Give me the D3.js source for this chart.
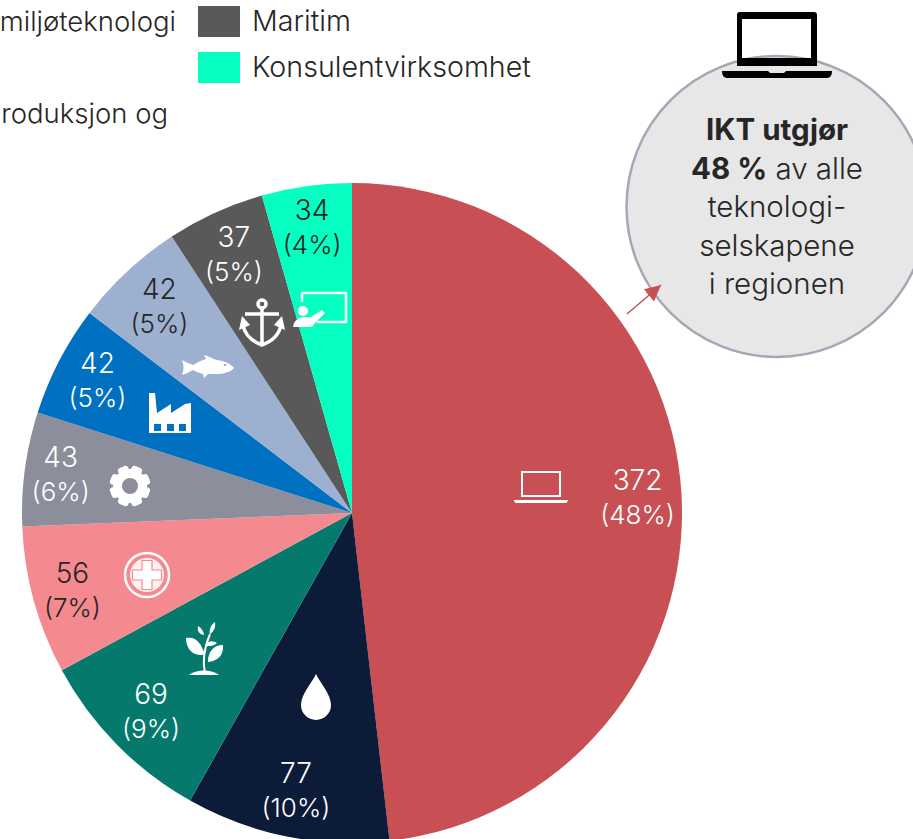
<!DOCTYPE html>
<head>
<meta charset="utf-8">
<script src="https://d3js.org/d3.v7.min.js"></script>
</head>
<style>
html, body { margin: 0; padding: 0; background: #fff; overflow: hidden; }
text { font-family: Inter, "Open Sans", sans-serif; font-weight: 300; fill: #262626; }
</style>
<body>
<script>
var categories = ["IKT", "Vann", "Landbruk", "Helse", "Teknologi", "Industri", "Fisk", "Maritim", "Konsulentvirksomhet"];
var values = [372, 77, 69, 56, 43, 42, 42, 37, 34];
var shares = ["48%", "10%", "9%", "7%", "6%", "5%", "5%", "5%", "4%"];
var colors = ["#c85054", "#0b1b38", "#06796d", "#f48a90", "#8c8e9c", "#0070c0", "#9db0d0", "#595959", "#05ffc0"];
var labelColors = ["#fff", "#fff", "#fff", "#262626", "#fff", "#fff", "#262626", "#fff", "#262626"];
var legendNames = ["Maritim", "Konsulentvirksomhet"];
var calloutLines = [["IKT utgjør", ""], ["48 %", " av alle"], ["", "teknologi-"], ["", "selskapene"], ["", "i regionen"]];

var width = 913, height = 839, cx = 352, cy = 513, radius = 330;
var labelRadius = [286, 283, 282, 290, 294, 287, 283, 285, 289];

var svg = d3.select("body").append("svg")
    .attr("width", width)
    .attr("height", height)
    .style("display", "block");

// pie
var pie = d3.pie().sort(null).value(function(d) { return d; });
var arcs = pie(values);
var arc = d3.arc().innerRadius(0).outerRadius(radius);
var g = svg.append("g").attr("transform", "translate(" + cx + "," + cy + ")");

g.selectAll("path.slice")
    .data(arcs)
  .enter().append("path")
    .attr("class", "slice")
    .attr("d", arc)
    .attr("fill", function(d, i) { return colors[i]; });

var labels = g.selectAll("g.label")
    .data(arcs)
  .enter().append("g")
    .attr("class", "label")
    .attr("transform", function(d, i) {
      var r = labelRadius[i];
      return "translate(" + d3.arc().innerRadius(r).outerRadius(r).centroid(d) + ")";
    });
labels.append("text")
    .attr("text-anchor", "middle")
    .attr("y", -7)
    .style("font-size", "28px")
    .style("fill", function(d, i) { return labelColors[i]; })
    .text(function(d) { return d.value; });
labels.append("text")
    .attr("text-anchor", "middle")
    .attr("y", 27)
    .style("font-size", "26px")
    .style("fill", function(d, i) { return labelColors[i]; })
    .text(function(d, i) { return "(" + shares[i] + ")"; });

// legend, the left part is cut off by the picture edge
svg.append("text").attr("x", 176).attr("y", 31).attr("text-anchor", "end").style("font-size", "27.5px").text("miljøteknologi");
svg.append("text").attr("x", 168).attr("y", 123).attr("text-anchor", "end").style("font-size", "27.5px").text("roduksjon og");
svg.selectAll("rect.swatch")
    .data(legendNames)
  .enter().append("rect")
    .attr("class", "swatch")
    .attr("x", 198)
    .attr("y", function(d, i) { return 6 + i * 46; })
    .attr("width", 42)
    .attr("height", 31)
    .attr("fill", function(d) { return colors[categories.indexOf(d)]; });
svg.selectAll("text.legend")
    .data(legendNames)
  .enter().append("text")
    .attr("class", "legend")
    .attr("x", 252)
    .attr("y", function(d, i) { return 31 + i * 46; })
    .style("font-size", "28.6px")
    .text(function(d) { return d; });

// icons
var laptop = "M-20 -17h40v26h-40zM-18 -15v22h36v-22zM-27.5 12h55l-2 3h-51z";
function icon(x, y, markup) {
  svg.append("g").attr("transform", "translate(" + x + "," + y + ")").html(markup);
}
icon(541, 488, '<path d="' + laptop + '" fill="#fff" fill-rule="evenodd"/>');
icon(316, 697, '<path d="M0 -23C4 -14 15 -3 15 8A15 15 0 0 1 -15 8C-15 -3 -4 -14 0 -23z" fill="#fff"/>');
icon(204, 648, '<g fill="none" stroke="#fff" stroke-width="2"><path d="M1 26C-2 12 0 0 6 -14M0 6L-5 -4M2 -2L8 -6"/></g>' +
  '<path fill="#fff" d="M-18 -10C-8 -12 -2 -5 -1 7C-10 8 -18 2 -18 -10zM19 -3C10 -3 4 3 4 14C14 13 20 7 19 -3zM-6 -22C-2 -20 0 -15 0 -13C-5 -14 -7 -17 -6 -22zM11 -26C12 -20 9 -16 6 -14C5 -19 7 -23 11 -26zM2 -3C5 -8 9 -7 13 -5C10 -2 5 -1 2 -3zM-15 27C-8 21 8 21 15 27z"/>');
icon(147, 575, '<circle r="22" fill="none" stroke="#fff" stroke-width="2.5"/><circle r="17" fill="#fdf1f1"/>' +
  '<path fill="#fff" stroke="#f48a90" stroke-width="1.2" d="M-5 -14.5H5V-5H14.5V5H5V14.5H-5V5H-14.5V-5H-5z"/>');
icon(130, 486, '<circle r="12.5" fill="none" stroke="#fff" stroke-width="9"/>' +
  d3.range(8).map(function(i) {
    return '<rect x="-5.5" y="-20.5" width="11" height="7" rx="3" fill="#fff" transform="rotate(' + (i * 45 + 22.5) + ')"/>';
  }).join(""));
icon(170, 414, '<path fill="#fff" fill-rule="evenodd" d="M-21 -21h6l2 20l14 -9v9l14 -9l6 -1v30h-42zM-16 10v7h7v-7zM-3 10v7h7v-7zM9 10v7h7v-7z"/>');
icon(208, 367, '<path fill="#fff" d="M-26 -7C-22 -5 -18 -3 -15 -2C-10 -5 -6 -7 -2 -8L-4 -12C0 -11 5 -8 9 -7C18 -6 24 -2 26 1C23 5 15 7 8 7C5 7 2 7 0 7L-4 11L-5 7C-10 6 -13 4 -15 3C-19 5 -22 7 -26 8C-24 3 -24 -2 -26 -7z"/>' +
  '<circle cx="17" cy="-2" r="1.3" fill="#9db0d0"/>');
icon(262, 322, '<g fill="none" stroke="#fff" stroke-width="3.5"><circle cy="-18" r="4"/><path d="M0 -14V23M-17 -8H17M-19 3C-17 14 -8 20 0 23C8 20 17 14 19 3"/></g>' +
  '<path fill="#fff" d="M-23 8L-20 -6L-12 3zM23 8L20 -6L12 3z"/>');
icon(320, 308, '<path fill="none" stroke="#fff" stroke-width="2.5" stroke-linejoin="round" d="M-18 -6V-15H26V14H-3"/>' +
  '<circle cx="-17" cy="3" r="5" fill="#fff"/>' +
  '<path fill="#fff" d="M-27 19C-26 12 -21 9 -15 9H-9L2 2L5 5L-5 15L-8 19z"/>');

// callout
svg.append("circle")
    .attr("cx", 777).attr("cy", 206.5).attr("r", 150.5)
    .attr("fill", "#e7e7e7")
    .attr("stroke", "#a6a6b5")
    .attr("stroke-width", 2.5);
icon(777, 45, '<path fill-rule="evenodd" d="M-37 -33H37Q40 -33 40 -30V21H-40V-30Q-40 -33 -37 -33zM-35 -26v39h69v-39zM-55 26h46l2 2h14l2 -2h46q0 7 -5 7h-100q-5 0 -5 -7z" fill="#000"/>');

var callout = svg.selectAll("text.callout")
    .data(calloutLines)
  .enter().append("text")
    .attr("class", "callout")
    .attr("x", 777)
    .attr("y", function(d, i) { return 140 + i * 38.6; })
    .attr("text-anchor", "middle")
    .style("font-size", "29.5px");
callout.append("tspan").style("font-weight", 700).text(function(d) { return d[0]; });
callout.append("tspan").text(function(d) { return d[1]; });

// arrow
svg.append("defs").append("marker")
    .attr("id", "head")
    .attr("viewBox", "0 0 10 10")
    .attr("refX", 10).attr("refY", 5)
    .attr("markerWidth", 16).attr("markerHeight", 16)
    .attr("markerUnits", "userSpaceOnUse")
    .attr("orient", "auto")
  .append("path").attr("d", "M0 0L10 5L0 10z").attr("fill", "#c85054");
svg.append("line")
    .attr("x1", 627).attr("y1", 314).attr("x2", 661).attr("y2", 285)
    .attr("stroke", "#c85054").attr("stroke-width", 1.5)
    .attr("marker-end", "url(#head)");
</script>
</body>
